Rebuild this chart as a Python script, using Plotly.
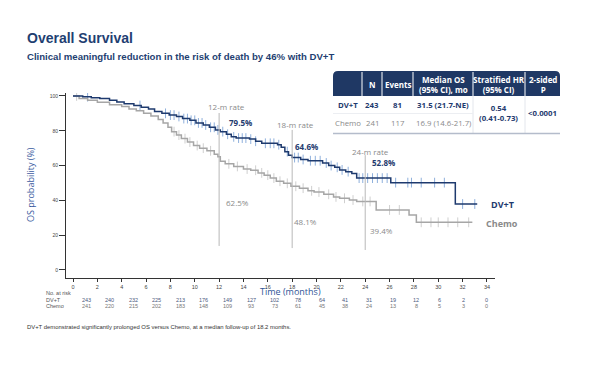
import numpy as np
import plotly.graph_objects as go

# ---------------- data ----------------
dvt_t = [0, 0.8, 1.5, 2.2, 3.0, 3.6, 4.2, 5.0, 5.6, 6.2, 6.7, 7.3, 7.9, 8.5, 9.0, 9.6, 10.1, 10.7,
         11.2, 11.7, 12.1, 12.6, 13.0, 13.4, 14.5, 15.0, 15.5, 16.8, 17.1, 17.4, 17.7, 18.0, 18.7,
         19.3, 20.5, 21.0, 21.5, 21.9, 22.4, 22.9, 23.3, 26.1, 31.4, 33.2]
dvt_s = [100, 99.6, 99, 98.5, 97.5, 96.5, 95.5, 94.5, 93.5, 92.5, 91, 90, 89, 88.2, 87, 86, 84.5, 83.3,
         82, 80.5, 79.5, 78, 76.5, 75.8, 75.2, 74, 72.8, 72, 70.5, 68, 66, 64.6, 63.5,
         62.8, 61.5, 60, 59, 57.5, 56.5, 55.5, 52.8, 50.2, 37.9, 37.9]
chemo_t = [0, 0.5, 1.2, 2.0, 3.0, 4.0, 4.6, 5.2, 5.8, 6.4, 7.0, 7.4, 7.8, 8.1, 8.5, 8.9, 9.4, 9.9,
           10.4, 11.0, 11.6, 11.9, 12.1, 12.5, 13.2, 14.0, 14.6, 15.2, 15.7, 16.2, 16.7, 17.3, 17.9,
           18.6, 19.3, 19.8, 20.6, 21.4, 21.9, 22.7, 23.3, 24.9, 27.6, 28.2, 32.8]
chemo_s = [100, 98.5, 97.5, 96.4, 95, 94, 92.5, 91.5, 90, 88.5, 86.5, 84.5, 82, 79.5, 77.5, 75.5, 73.5, 71.5,
           70, 68.5, 66.5, 65, 62.5, 61, 59.5, 58, 57.3, 55.8, 54.5, 52.8, 51, 49.8, 48.1,
           47, 45.5, 44.8, 43.5, 42, 41.2, 40.2, 39.4, 34.5, 31.6, 27.4, 27.4]
dvt_censor = [1.2, 5.5, 7.6, 8.0, 8.3, 8.7, 9.1, 9.4, 9.7, 10.0, 10.3, 10.6, 10.9, 11.3, 11.6, 11.9,
              12.3, 12.7, 13.2, 13.6, 13.9, 14.2, 14.6, 15.0, 15.8, 16.2, 16.5, 16.9, 17.6, 18.2, 18.5,
              18.9, 19.5, 19.9, 20.3, 20.8, 21.2, 21.7, 22.1, 22.6, 23.5, 23.8, 24.2, 24.6, 25.0, 25.4,
              25.8, 26.5, 27.5, 27.8, 28.6, 29.7, 30.5, 32.0, 33.0]
chemo_censor = [0.3, 8.3, 8.7, 9.2, 9.6, 10.2, 10.7, 11.3, 12.8, 13.5, 14.3, 15.0, 15.5, 16.0, 16.5,
                17.0, 17.6, 18.3, 18.9, 19.6, 20.2, 21.0, 21.6, 22.3, 23.0, 23.8, 24.4, 26.0, 26.8,
                28.6, 29.4, 30.0, 30.8, 31.6, 32.5]

landmarks = [12, 18, 24]
landmark_labels = ["12-m rate", "18-m rate", "24-m rate"]
dvt_rates = ["79.5%", "64.6%", "52.8%"]
chemo_rates = ["62.5%", "48.1%", "39.4%"]

risk_times = list(range(0, 35, 2))
dvt_risk = [243, 240, 232, 225, 213, 176, 149, 127, 102, 78, 64, 41, 31, 19, 12, 6, 2, 0]
chemo_risk = [241, 220, 215, 202, 183, 148, 109, 93, 73, 61, 45, 38, 24, 13, 8, 5, 3, 0]

table_header = ["", "N", "Events", "Median OS<br>(95% CI), mo", "Stratified HR<br>(95% CI)", "2-sided<br>P"]
table_dvt = ["DV+T", "243", "81", "31.5 (21.7-NE)"]
table_chemo = ["Chemo", "241", "117", "16.9 (14.6-21.7)"]
hr_text = "0.54<br>(0.41-0.73)"
p_text = "<0.0001"

title = "Overall Survival"
subtitle = "Clinical meaningful reduction in the risk of death by 46% with DV+T"
footnote = "DV+T demonstrated significantly prolonged OS versus Chemo, at a median follow-up of 18.2 months."

# ---------------- styles ----------------
NAVY = "#1e3a6e"
NAVY_CENS = "#8fb0dc"
GREY = "#a6a6a6"
GREY_CENS = "#cfcfcf"
TXT_GREY = "#8a8a8a"
HEADER = "#1f3864"
ARIAL = "Liberation Sans, Arial"
SANS = "Open Sans, Noto Sans, Arial"

OFF = 8                      # page body margin
W, H = 600 - OFF, 365 - OFF  # figure size
L, R, T, B = 66, 495, 93, 278  # plot area in screen pixels


def xp(px):
    return (px - L) / (R - L)


def yp(py):
    return (B - py) / (B - T)


def step_val(ts, ss, t):
    i = np.searchsorted(np.array(ts), t, side="right") - 1
    return ss[max(i, 0)]


def ann(text, px, py, size, color, family=SANS, xanchor="center", yanchor="middle", **kw):
    d = dict(text=text, x=xp(px), y=yp(py), xref="paper", yref="paper", showarrow=False,
             xanchor=xanchor, yanchor=yanchor, font=dict(family=family, size=size, color=color))
    d.update(kw)
    return d


fig = go.Figure()

# censor marks
fig.add_trace(go.Scatter(x=dvt_censor, y=[step_val(dvt_t, dvt_s, c) for c in dvt_censor], mode="markers",
                         marker=dict(symbol="line-ns-open", size=7, color=NAVY_CENS,
                                     line=dict(color=NAVY_CENS, width=1)),
                         hoverinfo="skip", showlegend=False))
fig.add_trace(go.Scatter(x=chemo_censor, y=[step_val(chemo_t, chemo_s, c) for c in chemo_censor], mode="markers",
                         marker=dict(symbol="line-ns-open", size=7, color=GREY_CENS,
                                     line=dict(color=GREY_CENS, width=1)),
                         hoverinfo="skip", showlegend=False))
# curves
fig.add_trace(go.Scatter(x=chemo_t, y=chemo_s, mode="lines", line=dict(color=GREY, width=1.5, shape="hv"),
                         name="Chemo", showlegend=False))
fig.add_trace(go.Scatter(x=dvt_t, y=dvt_s, mode="lines", line=dict(color=NAVY, width=1.5, shape="hv"),
                         name="DV+T", showlegend=False))

shapes = []
annotations = []

# landmark lines
lm_top = [90.2, 80.5, 66.0]
lm_bot = [13.8, 12.6, 11.5]
for x, y0, y1 in zip(landmarks, lm_bot, lm_top):
    shapes.append(dict(type="line", xref="x", yref="y", x0=x, x1=x, y0=y0, y1=y1,
                       line=dict(color="#b8b8b8", width=1)))

lab_pos = [(226, 106.5), (295, 124), (370, 151)]
dvt_pos = [(240.5, 122.5), (306, 146.5), (383, 162.5)]
ch_pos = [(237, 202.5), (305, 221.5), (381.5, 230.5)]
for txt, (px, py) in zip(landmark_labels, lab_pos):
    annotations.append(ann(txt, px, py, 8, TXT_GREY))
for txt, (px, py) in zip(dvt_rates, dvt_pos):
    annotations.append(ann("<b>" + txt + "</b>", px, py, 8, NAVY))
for txt, (px, py) in zip(chemo_rates, ch_pos):
    annotations.append(ann(txt, px, py, 8, TXT_GREY))

# curve end labels
annotations.append(ann("<b>DV+T</b>", 489, 204, 9, NAVY, xanchor="left"))
annotations.append(ann("<b>Chemo</b>", 484, 223, 9, TXT_GREY, xanchor="left"))

# titles
annotations.append(ann("<b>" + title + "</b>", 25, 38, 14, "#1f3f72", family=ARIAL, xanchor="left"))
annotations.append(ann("<b>" + subtitle + "</b>", 25, 56, 9.6, "#1f3f72", family=ARIAL, xanchor="left"))
annotations.append(ann(footnote, 25, 326.5, 5.9, "#333333", family=ARIAL, xanchor="left"))

# axis titles
annotations.append(ann("OS probability (%)", 30, 185, 9, "#3a5ba0", textangle=-90))
annotations.append(ann("Time (months)", 290, 291, 9, "#2f5597"))

# number at risk
annotations.append(ann("No. at risk", 44, 293, 5.5, "#555555", family=ARIAL, xanchor="left"))
annotations.append(ann("DV+T", 44, 299.5, 5.5, "#555555", family=ARIAL, xanchor="left"))
annotations.append(ann("Chemo", 44, 305.5, 5.5, "#555555", family=ARIAL, xanchor="left"))
for t, a, b in zip(risk_times, dvt_risk, chemo_risk):
    xr = t + 1.07 * (1 - t / 34)
    annotations.append(dict(text=str(a), x=xr, y=yp(300), xref="x", yref="paper", showarrow=False,
                            xanchor="center", yanchor="middle",
                            font=dict(family=ARIAL, size=5.5, color="#4a5a80")))
    annotations.append(dict(text=str(b), x=xr, y=yp(306), xref="x", yref="paper", showarrow=False,
                            xanchor="center", yanchor="middle",
                            font=dict(family=ARIAL, size=5.5, color="#777777")))

# ---------------- summary table ----------------
cols = [333, 362, 382, 413, 473, 525, 560]
h0, h1 = 71, 96
r = 5
path = (f"M {xp(cols[0])},{yp(h1)} L {xp(cols[0])},{yp(h0 + r)} "
        f"Q {xp(cols[0])},{yp(h0)} {xp(cols[0] + r)},{yp(h0)} "
        f"L {xp(cols[-1] - r)},{yp(h0)} Q {xp(cols[-1])},{yp(h0)} {xp(cols[-1])},{yp(h0 + r)} "
        f"L {xp(cols[-1])},{yp(h1)} Z")
shapes.append(dict(type="path", xref="paper", yref="paper", path=path, fillcolor=HEADER, line=dict(width=0)))
for c in cols[1:-1]:
    shapes.append(dict(type="line", xref="paper", yref="paper", x0=xp(c), x1=xp(c), y0=yp(h1), y1=yp(h0 + 1),
                       line=dict(color="white", width=1)))
for c in cols[4:6]:
    shapes.append(dict(type="line", xref="paper", yref="paper", x0=xp(c), x1=xp(c), y0=yp(133), y1=yp(h1),
                       line=dict(color="#e3e6ec", width=1)))
shapes.append(dict(type="line", xref="paper", yref="paper", x0=xp(cols[0]), x1=xp(cols[4]), y0=yp(113.5),
                   y1=yp(113.5), line=dict(color="#eceef2", width=1)))
shapes.append(dict(type="line", xref="paper", yref="paper", x0=xp(cols[0]), x1=xp(cols[-1]), y0=yp(133.5),
                   y1=yp(133.5), line=dict(color="#b4bccb", width=1.5)))

for i, txt in enumerate(table_header):
    if not txt:
        continue
    cx = (cols[i] + cols[i + 1]) / 2
    annotations.append(ann("<b>" + txt + "</b>", cx, (h0 + h1) / 2 + 0.5, 8, "white"))
for i, txt in enumerate(table_dvt):
    cx = (cols[i] + cols[i + 1]) / 2
    annotations.append(ann("<b>" + txt + "</b>", cx, 105, 7.8, NAVY))
for i, txt in enumerate(table_chemo):
    cx = (cols[i] + cols[i + 1]) / 2
    annotations.append(ann(txt, cx, 122.5, 7.8, TXT_GREY))
annotations.append(ann("<b>" + hr_text + "</b>", (cols[4] + cols[5]) / 2, 113, 7.8, NAVY))
annotations.append(ann("<b>" + p_text + "</b>", (cols[5] + cols[6]) / 2, 113, 7.8, NAVY))

fig.update_layout(
    width=W, height=H,
    margin=dict(l=L - OFF, r=W - (R - OFF), t=T - OFF, b=H - (B - OFF), pad=0, autoexpand=False),
    paper_bgcolor="white", plot_bgcolor="white",
    shapes=shapes, annotations=annotations,
    showlegend=False,
    xaxis=dict(range=[-0.575, 34.66], tickvals=risk_times, showgrid=False, zeroline=False,
               showline=True, linecolor="#333333", linewidth=1, ticks="outside", ticklen=3,
               tickcolor="#333333", tickfont=dict(family=ARIAL, size=5.5, color="#444444")),
    yaxis=dict(range=[-4.6, 101.7], tickvals=[0, 20, 40, 60, 80, 100], showgrid=False, zeroline=False,
               showline=True, linecolor="#333333", linewidth=1, ticks="outside", ticklen=6,
               tickcolor="#333333", tickfont=dict(family=ARIAL, size=5, color="#444444")),
)

fig.write_html("out.html")
